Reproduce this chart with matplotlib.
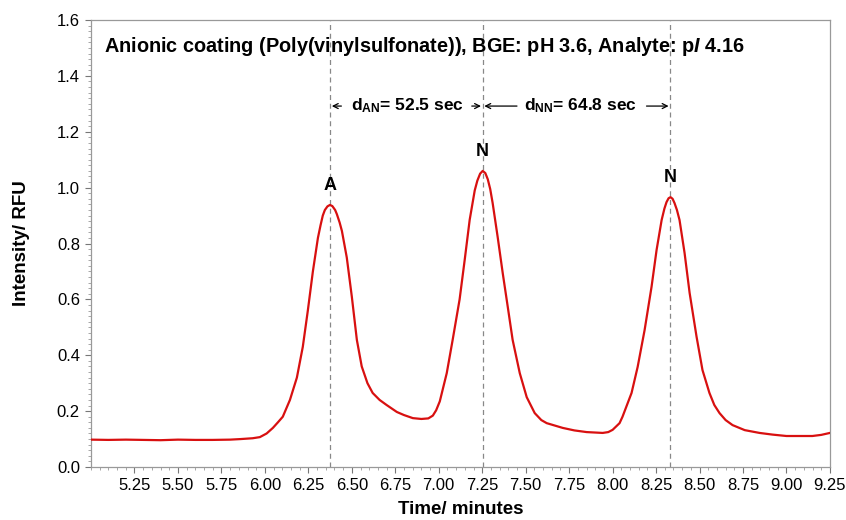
import matplotlib
matplotlib.use("Agg")
import matplotlib.pyplot as plt
from matplotlib.ticker import MultipleLocator, FormatStrFormatter

plt.rcParams['font.family'] = ['Liberation Sans', 'DejaVu Sans']
plt.rcParams['mathtext.fontset'] = 'custom'
plt.rcParams['mathtext.rm'] = 'Liberation Sans'
plt.rcParams['mathtext.bf'] = 'Liberation Sans:bold'
plt.rcParams['mathtext.it'] = 'Liberation Sans:italic'
plt.rcParams['mathtext.bfit'] = 'Liberation Sans:bold:italic'

# Electropherogram trace (time in minutes, fluorescence in RFU)
time_min = [5.00, 5.10, 5.20, 5.30, 5.40, 5.50, 5.60, 5.70, 5.80, 5.86, 5.93, 5.971,
            6.01, 6.046, 6.075, 6.103, 6.144, 6.184, 6.218, 6.247, 6.276, 6.305, 6.32,
            6.333, 6.345, 6.36, 6.374, 6.388, 6.404, 6.414, 6.43, 6.443, 6.471, 6.50,
            6.529, 6.557, 6.59, 6.62, 6.66, 6.70, 6.759, 6.80, 6.851, 6.90, 6.94, 6.966,
            6.985, 7.006, 7.046, 7.08, 7.12, 7.149, 7.178, 7.207, 7.222, 7.238, 7.253,
            7.268, 7.282, 7.296, 7.31, 7.339, 7.368, 7.397, 7.425, 7.466, 7.506, 7.552,
            7.59, 7.621, 7.713, 7.78, 7.851, 7.943, 7.975, 8.0, 8.04, 8.057, 8.109, 8.144,
            8.184, 8.224, 8.253, 8.282, 8.298, 8.310, 8.322, 8.333, 8.345, 8.356, 8.37,
            8.385, 8.414, 8.443, 8.483, 8.517, 8.557, 8.585, 8.615, 8.65, 8.69, 8.76,
            8.845, 8.92, 9.0, 9.149, 9.20, 9.25]
intensity = [0.098, 0.097, 0.098, 0.097, 0.096, 0.098, 0.097, 0.097, 0.098, 0.100, 0.103, 0.107,
             0.12, 0.14, 0.16, 0.18, 0.24, 0.32, 0.43, 0.56, 0.70, 0.82, 0.865,
             0.90, 0.92, 0.933, 0.938, 0.934, 0.92, 0.905, 0.875, 0.845, 0.75, 0.61,
             0.455, 0.36, 0.30, 0.265, 0.24, 0.222, 0.197, 0.186, 0.175, 0.172, 0.174, 0.184,
             0.203, 0.235, 0.336, 0.455, 0.60, 0.74, 0.885, 0.99, 1.025, 1.05, 1.06,
             1.052, 1.03, 0.995, 0.945, 0.823, 0.694, 0.573, 0.455, 0.336, 0.25, 0.193,
             0.168, 0.157, 0.14, 0.131, 0.125, 0.122, 0.125, 0.133, 0.157, 0.18, 0.265, 0.358,
             0.49, 0.645, 0.777, 0.884, 0.925, 0.948, 0.962, 0.966, 0.96, 0.945, 0.92,
             0.884, 0.766, 0.623, 0.466, 0.347, 0.265, 0.222, 0.193, 0.168, 0.15, 0.132,
             0.122, 0.116, 0.111, 0.111, 0.115, 0.122]

# Peak apex times and labels
peak_times = [6.374, 7.253, 8.333]
peak_heights = [0.938, 1.06, 0.966]
peak_labels = ['A', 'N', 'N']

x_ticks = [5.25, 5.50, 5.75, 6.00, 6.25, 6.50, 6.75, 7.00, 7.25, 7.50,
           7.75, 8.00, 8.25, 8.50, 8.75, 9.00, 9.25]

fig = plt.figure(figsize=(8.46, 5.20), dpi=100)
ax = fig.add_axes([0.1076, 0.1019, 0.8734, 0.8596])

ax.plot(time_min, intensity, color='#d81010', lw=1.6, zorder=3)

for t in peak_times:
    ax.axvline(t, color='#888888', lw=0.9, ls=(0, (4, 3)), zorder=2)

for t, h, lab in zip(peak_times, peak_heights, peak_labels):
    ax.text(t, h + 0.04, lab, ha='center', va='bottom', fontsize=13,
            fontweight='bold')

ax.text(5.075, 1.505,
        r'Anionic coating (Poly(vinylsulfonate)), BGE: pH 3.6, Analyte: p$\mathbfit{I}$ 4.16',
        ha='left', va='center', fontsize=14.3, fontweight='bold')

arrow_kw = dict(arrowstyle='->', color='black', lw=0.9, shrinkA=0, shrinkB=0,
                mutation_scale=9)
y_arr = 1.292
ax.annotate('', xy=(6.385, y_arr), xytext=(6.44, y_arr), arrowprops=arrow_kw)
ax.annotate('', xy=(7.243, y_arr), xytext=(7.19, y_arr), arrowprops=arrow_kw)
ax.annotate('', xy=(7.262, y_arr), xytext=(7.45, y_arr), arrowprops=arrow_kw)
ax.annotate('', xy=(8.322, y_arr), xytext=(8.195, y_arr), arrowprops=arrow_kw)
ax.text(6.82, y_arr, r'd$_{\mathbf{AN}}$= 52.5 sec', ha='center', va='center',
        fontsize=12.5, fontweight='bold')
ax.text(7.815, y_arr, r'd$_{\mathbf{NN}}$= 64.8 sec', ha='center', va='center',
        fontsize=12.5, fontweight='bold')

ax.set_xlim(5.0, 9.25)
ax.set_ylim(0.0, 1.6)
ax.set_xticks(x_ticks)
ax.xaxis.set_major_formatter(FormatStrFormatter('%.2f'))
ax.xaxis.set_minor_locator(MultipleLocator(0.05))
ax.yaxis.set_major_locator(MultipleLocator(0.2))
ax.yaxis.set_major_formatter(FormatStrFormatter('%.1f'))
ax.yaxis.set_minor_locator(MultipleLocator(0.02))

ax.tick_params(which='major', direction='out', length=4, width=0.8, color='#777777',
               labelsize=12, pad=4)
ax.tick_params(which='minor', direction='out', length=2, width=0.6, color='#999999')
for s in ax.spines.values():
    s.set_color('#999999')
    s.set_linewidth(0.9)

ax.set_xlabel('Time/ minutes', fontsize=13.5, fontweight='bold', labelpad=6)
ax.set_ylabel('Intensity/ RFU', fontsize=13.5, fontweight='bold', labelpad=19)

fig.savefig('out.png', dpi=100)
